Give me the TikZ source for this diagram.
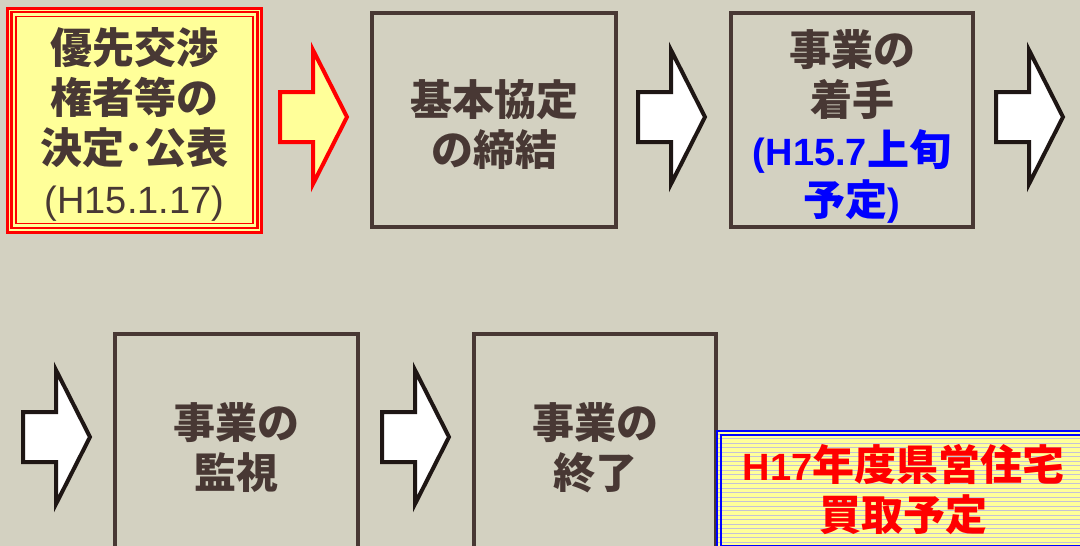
\documentclass[tikz,border=0pt]{standalone}
\usepackage{fontspec}
\newfontfamily\jp{Noto Sans CJK JP}
\newfontfamily\la{Liberation Sans}
\newcommand\latn[1]{{\la\fontsize{38}{50}\selectfont #1}}
\newcommand\upstrut[1]{\rule{0pt}{#1}}
\definecolor{bg}{RGB}{211,209,193}
\definecolor{txt}{RGB}{72,56,52}
\definecolor{pale}{RGB}{255,255,153}
\definecolor{stripe}{RGB}{196,194,214}
\definecolor{arrline}{RGB}{30,22,20}
\tikzset{
  stepbox/.style={draw=txt, line width=3.5pt, align=center, text=txt, inner sep=0pt,
    font={\jp\bfseries\fontsize{42}{50}\selectfont}},
  barrow/.pic={\path[pic actions] (0,-25) -- (33,-25) -- (33,-67) -- (67,0) -- (33,67) -- (33,25) -- (0,25) -- cycle;},
  whitearrow/.style={draw=arrline, fill=white, line width=4pt},
  redarrow/.style={draw=red, fill=pale, line width=4pt}
}
\begin{document}
\begin{tikzpicture}[x=1pt,y=-1pt]
\useasboundingbox (0,0) rectangle (1080,546);
\clip (0,0) rectangle (1080,546);
\fill[bg] (0,0) rectangle (1080,546);

% box 1
\node[stepbox, draw=red, fill=pale, line width=3pt, minimum width=254pt, minimum height=224pt] (b1) at (134.5,120)
  {\upstrut{44pt}優先交渉\\権者等の\\決定･公表\\{\la\mdseries\fontsize{38}{50}\selectfont (H15.1.17)}};
\draw[red, line width=2.2pt] ([shift={(5.5,5.5)}]b1.north west) rectangle ([shift={(-5.5,-5.5)}]b1.south east);
\draw[red, line width=1.6pt] ([shift={(10,10)}]b1.north west) rectangle ([shift={(-10,-10)}]b1.south east);

% box 2
\node[stepbox, minimum width=244pt, minimum height=214pt] (b2) at (494,120) {\upstrut{46pt}基本協定\\の締結};
% box 3
\node[stepbox, minimum width=242pt, minimum height=214pt] (b3) at (852,120)
  {\upstrut{48pt}事業の\\着手\\{\color{blue}\latn{(H15.7}上旬}\\{\color{blue}予定\latn{)}}};
% box 4
\node[stepbox, minimum width=243pt, minimum height=222pt] (b4) at (236.5,445) {\upstrut{42pt}事業の\\監視};
% box 5
\node[stepbox, minimum width=242pt, minimum height=222pt] (b5) at (595,445) {\upstrut{42pt}事業の\\終了};
% box 6
\node[stepbox, draw=blue, line width=2.5pt, fill=pale, text=red, minimum width=373pt, minimum height=118pt,
  path picture={\foreach \k in {0,...,30}
    \draw[stripe, line width=0.9pt] ([yshift=-\k*4.5pt-3pt]path picture bounding box.north west) -- ([yshift=-\k*4.5pt-3pt]path picture bounding box.north east);}]
  (b6) at (903.5,490) {\latn{H17}年度県営住宅\\買取予定};
\draw[blue, line width=1.5pt] ([shift={(5,5)}]b6.north west) rectangle ([shift={(-5,-5)}]b6.south east);

% block arrows
\pic[redarrow] (a1) at (280,117) {barrow};
\pic[whitearrow] (a2) at (638,117) {barrow};
\pic[whitearrow] (a3) at (996,117) {barrow};
\pic[whitearrow] (a4) at (23,437) {barrow};
\pic[whitearrow] (a5) at (382,437) {barrow};
\end{tikzpicture}
\end{document}
